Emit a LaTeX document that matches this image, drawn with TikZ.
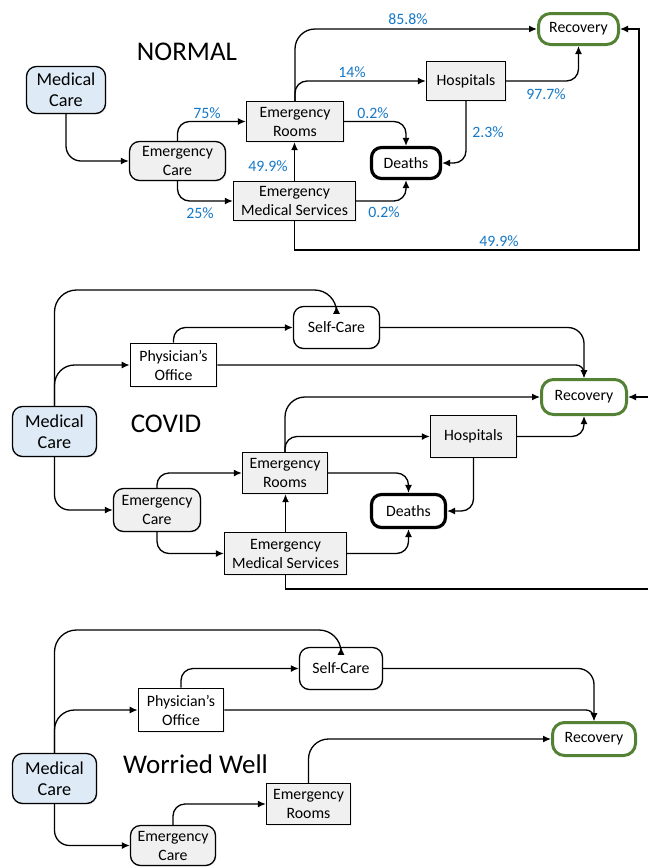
\documentclass[tikz,border=0pt]{standalone}
\usepackage{fontspec}
\setmainfont{Carlito}
\usetikzlibrary{arrows.meta,positioning,shadows}
\definecolor{mcblue}{RGB}{222,235,247}
\definecolor{boxgray}{RGB}{240,240,240}
\definecolor{recgreen}{RGB}{84,130,53}
\definecolor{pctblue}{RGB}{20,120,200}
\begin{document}
\begin{tikzpicture}[x=1pt,y=-1pt,
  every node/.style={font=\fontsize{15.8}{19}\selectfont, align=center, inner sep=0pt},
  nbox/.style={draw, line width=1.3pt, drop shadow={opacity=0.12, shadow xshift=1.2pt, shadow yshift=-1.2pt}},
  medbox/.style={nbox, rounded corners=10pt, fill=mcblue, font=\fontsize{18.2}{21}\selectfont},
  ecbox/.style={nbox, rounded corners=10pt, fill=boxgray},
  gbox/.style={nbox, fill=boxgray},
  wbox/.style={nbox, line width=1.7pt, fill=white},
  scbox/.style={nbox, rounded corners=10pt, fill=white},
  deathbox/.style={draw, line width=3.2pt, rounded corners=10pt, fill=white},
  recbox/.style={draw=recgreen, line width=3pt, rounded corners=12pt, fill=white},
  title/.style={font=\fontsize{27}{30}\selectfont},
  pct/.style={text=pctblue},
  conn/.style={line width=1.3pt, -{Latex[length=8pt,width=7pt]}, rounded corners=12pt},
  plain/.style={line width=1.3pt, -{Latex[length=8pt,width=7pt]}},
]
\useasboundingbox (0,0) rectangle (648,868);

% ================= NORMAL =================
\node[title] (tn) at (187,52) {NORMAL};
\node[medbox, minimum width=79pt, minimum height=47pt] (mc1) at (66,90) {Medical\\Care};
\node[ecbox, minimum width=96pt, minimum height=39pt] (ec1) at (177.5,161) {Emergency\\Care};
\node[gbox, minimum width=97pt, minimum height=40pt] (er1) at (295,121.5) {Emergency\\Rooms};
\node[gbox, minimum width=122pt, minimum height=39pt] (ems1) at (294.5,201) {Emergency\\Medical Services};
\node[deathbox, minimum width=69pt, minimum height=31pt] (de1) at (406,163) {Deaths};
\node[gbox, minimum width=79pt, minimum height=39pt] (ho1) at (466,81) {Hospitals};
\node[recbox, minimum width=80pt, minimum height=31pt] (re1) at (578.5,29) {Recovery};

\draw[conn, rounded corners=15pt] (mc1.south) |- (ec1.west);
\draw[conn] (ec1.north) |- (er1.west);
\draw[conn] (ec1.south) |- (ems1.west);
\draw[plain] (ems1.north) -- (ems1.north |- er1.south);
\draw[conn] (er1.north) |- (ho1.west);
\draw[conn, rounded corners=20pt] (er1.north) |- (re1.west);
\draw[conn] (er1.east) -| (de1.north);
\draw[conn] (ems1.east) -| (de1.south);
\draw[conn] (ho1.south) |- (de1.east);
\draw[conn] (ho1.east) -| (re1.south);
\coordinate (r1) at (639,250);
\draw[plain] (ems1.south) |- (r1) |- (re1.east);

\node[pct] (p1) at (207,113) {75\%};
\node[pct] (p2) at (200,213) {25\%};
\node[pct] (p3) at (268,166) {49.9\%};
\node[pct] (p4) at (352,72) {14\%};
\node[pct] (p5) at (408,19) {85.8\%};
\node[pct] (p6) at (373,113) {0.2\%};
\node[pct] (p7) at (384,212) {0.2\%};
\node[pct] (p8) at (488,132) {2.3\%};
\node[pct] (p9) at (546,94) {97.7\%};
\node[pct] (p10) at (499,241) {49.9\%};

% ================= COVID =================
\node[title] (tc) at (166,424) {COVID};
\node[medbox, minimum width=84pt, minimum height=50pt] (mc2) at (54.5,431.5) {Medical\\Care};
\node[wbox, minimum width=86pt, minimum height=43pt] (po2) at (173.5,365) {Physician’s\\Office};
\node[scbox, minimum width=86pt, minimum height=42pt] (sc2) at (336.5,327.5) {Self-Care};
\node[recbox, minimum width=85pt, minimum height=35pt] (re2) at (584,397) {Recovery};
\node[gbox, minimum width=86pt, minimum height=42pt] (ho2) at (473.5,436.5) {Hospitals};
\node[deathbox, minimum width=74pt, minimum height=33pt] (de2) at (408.5,511) {Deaths};
\node[gbox, minimum width=85pt, minimum height=41pt] (er2) at (285,473) {Emergency\\Rooms};
\node[ecbox, minimum width=87pt, minimum height=43pt] (ec2) at (157,510) {Emergency\\Care};
\node[gbox, minimum width=122pt, minimum height=42pt] (ems2) at (285.5,553.5) {Emergency\\Medical Services};

\coordinate (t2) at (54.5,290);
\draw[line width=1.3pt, -{Latex[length=8pt,width=7pt]}] (mc2.north) [rounded corners=22pt] -- (t2) -- (sc2.north |- t2) [rounded corners=10pt] -- (sc2.north);
\draw[conn, rounded corners=20pt] (mc2.north) |- (po2.west);
\draw[conn] (po2.north) |- (sc2.west);
\draw[conn, rounded corners=8pt] (po2.east) -| (re2.north);
\draw[conn, rounded corners=16pt] (sc2.east) -| (re2.north);
\draw[conn, rounded corners=15pt] (mc2.south) |- (ec2.west);
\draw[conn] (ec2.north) |- (er2.west);
\draw[conn] (ec2.south) |- (ems2.west);
\draw[plain] (ems2.north) -- (ems2.north |- er2.south);
\draw[conn] (er2.north) |- (ho2.west);
\draw[conn, rounded corners=20pt] (er2.north) |- (re2.west);
\draw[conn] (er2.east) -| (de2.north);
\draw[conn] (ems2.east) -| (de2.south);
\draw[conn] (ho2.south) |- (de2.east);
\draw[conn] (ho2.east) -| (re2.south);
\coordinate (r2) at (660,589);
\draw[plain] (ems2.south) |- (r2) |- (re2.east);

% ================= WORRIED WELL =================
\node[title] (tw) at (195.5,764) {Worried Well};
\node[medbox, minimum width=84pt, minimum height=50pt] (mc3) at (54.5,778.5) {Medical\\Care};
\node[wbox, minimum width=85pt, minimum height=43pt] (po3) at (181,710) {Physician’s\\Office};
\node[scbox, minimum width=83pt, minimum height=42pt] (sc3) at (341,668.5) {Self-Care};
\node[recbox, minimum width=83pt, minimum height=33pt] (re3) at (594,739) {Recovery};
\node[gbox, minimum width=84pt, minimum height=41pt] (er3) at (308.5,804) {Emergency\\Rooms};
\node[ecbox, minimum width=85pt, minimum height=40pt] (ec3) at (173,845.5) {Emergency\\Care};

\coordinate (t3) at (54.5,630);
\draw[line width=1.3pt, -{Latex[length=8pt,width=7pt]}] (mc3.north) [rounded corners=22pt] -- (t3) -- (sc3.north |- t3) [rounded corners=10pt] -- (sc3.north);
\draw[conn, rounded corners=20pt] (mc3.north) |- (po3.west);
\draw[conn] (po3.north) |- (sc3.west);
\draw[conn, rounded corners=8pt] (po3.east) -| (re3.north);
\draw[conn, rounded corners=16pt] (sc3.east) -| (re3.north);
\draw[conn, rounded corners=15pt] (mc3.south) |- (ec3.west);
\draw[conn] (ec3.north) |- (er3.west);
\draw[conn, rounded corners=20pt] (er3.north) |- (re3.west);
\end{tikzpicture}
\end{document}
